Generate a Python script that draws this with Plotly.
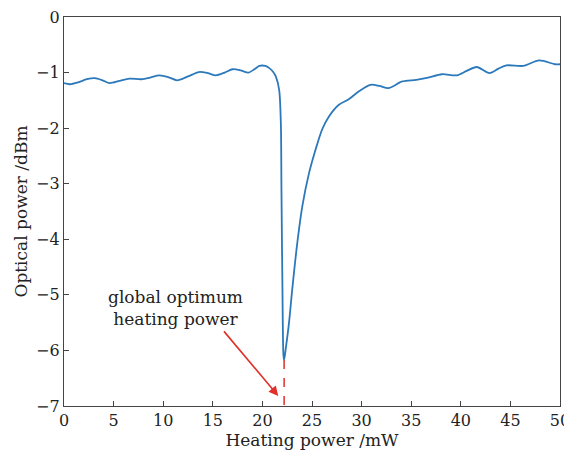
import plotly.graph_objects as go

heating_power = [0, 0.6, 1.5, 2.3, 3.1, 3.9, 4.6, 5.6, 6.6, 7.8, 8.7, 9.6, 10.5, 11.4, 12.5, 13.6, 14.5, 15.3,
                 16.2, 17.0, 17.8, 18.6, 19.2,
                 19.7, 20.3, 20.7, 21.05, 21.35, 21.69, 21.86, 21.92, 22.02, 22.12, 22.19,
                 22.36, 22.69, 23.02, 23.52, 24.03, 24.70, 25.37, 26.03, 26.71,
                 27.71, 28.7, 29.7, 30.9, 31.8, 32.7, 34.1, 35.5, 36.7, 38.1,
                 39.6, 40.6, 41.6, 42.9, 43.8, 44.6, 46.3, 47.9, 49.5, 50]
optical_power = [-1.19, -1.21, -1.17, -1.12, -1.10, -1.14, -1.19, -1.15, -1.11, -1.12, -1.09, -1.05, -1.08, -1.14, -1.07, -0.99, -1.01, -1.05,
                 -1.00, -0.94, -0.96, -1.00, -0.94,
                 -0.88, -0.88, -0.92, -0.98, -1.07, -1.31, -1.91, -3.1, -4.88, -6.08, -6.17,
                 -5.96, -5.49, -4.88, -4.06, -3.40, -2.81, -2.38, -2.02, -1.79,
                 -1.58, -1.48, -1.34, -1.22, -1.24, -1.28, -1.16, -1.13, -1.09, -1.03,
                 -1.05, -0.97, -0.90, -1.01, -0.93, -0.87, -0.88, -0.78, -0.85, -0.85]

optimum_x = 22.19
optimum_y = -6.17
x_ticks = [0, 5, 10, 15, 20, 25, 30, 35, 40, 45, 50]
y_ticks = [0, -1, -2, -3, -4, -5, -6, -7]

FONT = "DejaVu Serif"

fig = go.Figure()
fig.add_trace(go.Scatter(
    x=heating_power, y=optical_power, mode="lines",
    line=dict(color="#2b79bb", width=1.8, shape="spline", smoothing=0.8),
    showlegend=False, hoverinfo="skip"))

fig.add_shape(type="line", x0=optimum_x, x1=optimum_x, y0=optimum_y, y1=-7,
              line=dict(color="#e0302a", width=1.5, dash="dash"))

fig.add_annotation(x=21.6, y=-6.82, ax=16.0, ay=-5.63, axref="x", ayref="y",
                   xref="x", yref="y", text="", showarrow=True,
                   arrowhead=2, arrowsize=1.2, arrowwidth=1.6, arrowcolor="#e0302a")
fig.add_annotation(x=11.2, y=-5.24, xref="x", yref="y",
                   text="global optimum<br>heating power", showarrow=False,
                   font=dict(family=FONT, size=17, color="#222"))

axis_common = dict(showgrid=False, zeroline=False, showline=True, linecolor="#444",
                   linewidth=1.2, mirror=True, ticks="inside", ticklen=5, automargin=False,
                   ticklabeloverflow="allow",
                   tickcolor="#444", tickfont=dict(family=FONT, size=16, color="#222"))

fig.update_xaxes(range=[0, 50], tickvals=x_ticks,
                 title=dict(text="Heating power /mW", font=dict(family=FONT, size=17, color="#222"), standoff=2),
                 **axis_common)
fig.update_yaxes(range=[-7, 0], tickvals=y_ticks,
                 title=dict(text="Optical power /dBm", font=dict(family=FONT, size=17, color="#222"), standoff=4),
                 **axis_common)

# page body has an 8px margin: shrink the figure so the plot lands where the reference's does
fig.update_layout(width=564, height=449, margin=dict(l=56, r=12, t=9, b=51),
                  plot_bgcolor="white", paper_bgcolor="white")

fig.write_html("out.html")
